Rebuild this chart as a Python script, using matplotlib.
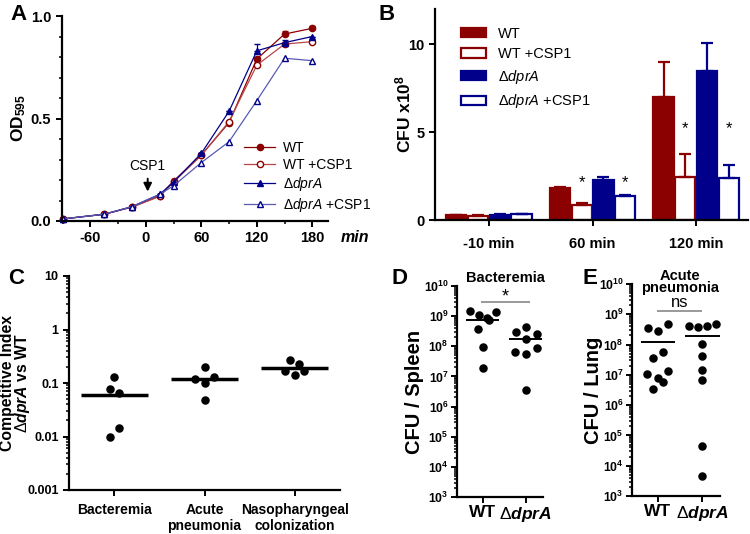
import matplotlib
matplotlib.use('Agg')
import matplotlib.pyplot as plt
import numpy as np
from matplotlib.ticker import LogLocator, NullFormatter, MultipleLocator

plt.rcParams['font.family'] = ['Liberation Sans', 'DejaVu Sans']
plt.rcParams['mathtext.fontset'] = 'custom'
plt.rcParams['mathtext.rm'] = 'Liberation Sans'
plt.rcParams['mathtext.it'] = 'Liberation Sans:italic'
plt.rcParams['mathtext.bf'] = 'Liberation Sans:bold'
plt.rcParams['mathtext.bfit'] = 'Liberation Sans:italic:bold'
plt.rcParams['axes.unicode_minus'] = False

RED = '#8b0000'
RED_L = '#b84848'
BLUE = '#00008b'
BLUE_L = '#5a5ab4'

# ---- panel A: growth curves
time_min = [-90, -45, -15, 15, 30, 60, 90, 120, 150, 180]
od_wt = [0.01, 0.033, 0.068, 0.122, 0.195, 0.322, 0.48, 0.79, 0.912, 0.94]
od_wt_csp = [0.01, 0.033, 0.068, 0.12, 0.19, 0.32, 0.485, 0.76, 0.863, 0.875]
od_dpra = [0.01, 0.033, 0.07, 0.13, 0.19, 0.33, 0.535, 0.83, 0.87, 0.9]
od_dpra_csp = [0.01, 0.033, 0.07, 0.13, 0.172, 0.285, 0.387, 0.587, 0.794, 0.782]
err_wt = [0, 0, 0, 0, 0, 0, 0.01, 0.01, 0.015, 0.01]
err_dpra = [0, 0, 0, 0, 0, 0, 0, 0.033, 0.012, 0]

# ---- panel B: CFU bars
groups_b = ['-10 min', '60 min', '120 min']
cfu_wt = [0.27, 1.8, 7.0]
cfu_wt_csp = [0.24, 0.88, 2.45]
cfu_dpra = [0.3, 2.3, 8.45]
cfu_dpra_csp = [0.33, 1.35, 2.4]
cfu_wt_err = [0.03, 0.05, 1.95]
cfu_wt_csp_err = [0.02, 0.08, 1.32]
cfu_dpra_err = [0.03, 0.12, 1.6]
cfu_dpra_csp_err = [0.03, 0.08, 0.72]

# ---- panel C: competitive index
groups_c = ['Bacteremia', 'Acute\npneumonia', 'Nasopharyngeal\ncolonization']
ci_values = [[0.129, 0.078, 0.065, 0.0147, 0.0099],
             [0.2, 0.12, 0.129, 0.098, 0.049],
             [0.264, 0.23, 0.168, 0.143, 0.166]]
ci_offsets = [[0, -0.05, 0.05, 0.05, -0.05],
              [0, -0.11, 0.11, 0, 0],
              [-0.055, 0.05, -0.11, 0, 0.1]]
ci_medians = [0.059, 0.12, 0.194]

# ---- panel D: bacteremia spleen CFU
d_wt = [1.5e9, 1.1e9, 8.9e8, 7.2e8, 1.4e9, 3.7e8, 9.6e7, 1.9e7]
d_wt_off = [-0.29, -0.09, 0.1, 0.14, 0.31, -0.12, 0, 0]
d_dpra = [2.9e8, 4.3e8, 2.6e8, 1.8e8, 6.3e7, 5.5e7, 8.9e7, 3.5e6]
d_dpra_off = [-0.23, 0, 0.25, 0, -0.25, 0, 0.25, 0]
d_lines = [7.7e8, 1.7e8]

# ---- panel E: acute pneumonia lung CFU
e_wt = [3.6e8, 2.9e8, 4.8e8, 3.7e7, 5.6e7, 1.07e7, 8.1e6, 6e6, 1.3e7, 3.4e6]
e_wt_off = [-0.21, 0, 0.23, -0.11, 0.11, -0.23, 0, 0.11, 0.23, -0.11]
e_dpra = [4.2e8, 3.7e8, 4.2e8, 4.7e8, 1.05e8, 4.2e7, 1.45e7, 6.8e6, 4.6e4, 4.7e3]
e_dpra_off = [-0.3, -0.09, 0.1, 0.29, 0, 0, 0, 0, 0, 0]
e_lines = [1.26e8, 1.9e8]

W, H = 750, 534
fig = plt.figure(figsize=(7.5, 5.34), dpi=100)


def px_axes(l, t, r, b):
    ax = fig.add_axes([l / W, 1 - b / H, (r - l) / W, (b - t) / H])
    ax.spines['top'].set_visible(False)
    ax.spines['right'].set_visible(False)
    for s in ['left', 'bottom']:
        ax.spines[s].set_linewidth(1.6)
    ax.tick_params(direction='out', width=1.4, length=4)
    ax.tick_params(which='minor', direction='out', width=1.1, length=2.5)
    ax.patch.set_alpha(0)
    return ax


def bold_ticks(ax, size):
    for lab in ax.get_xticklabels() + ax.get_yticklabels():
        lab.set_fontweight('bold')
        lab.set_fontsize(size)


# ===== A
ax = px_axes(61.7, 16, 328, 221)
series_a = [(od_wt, err_wt, RED, 'o', RED, 'WT'),
            (od_wt_csp, None, RED_L, 'o', 'white', 'WT +CSP1'),
            (od_dpra, err_dpra, BLUE, '^', BLUE, r'$\Delta\mathit{dprA}$'),
            (od_dpra_csp, None, BLUE_L, '^', 'white', r'$\Delta\mathit{dprA}$ +CSP1')]
for vals, errs, col, mk, face, lab in series_a:
    edge = RED if col in (RED, RED_L) else BLUE
    if errs is not None:
        ax.errorbar(time_min, vals, yerr=[np.zeros(len(errs)), errs], fmt='none',
                    ecolor=col, elinewidth=0.9, capsize=2.5, clip_on=False)
    ax.plot(time_min, vals, color=col, lw=0.9, marker=mk, ms=4.5, mfc=face, mec=edge,
            clip_on=False, label=lab)
ax.set_xlim(-91, 197)
ax.set_ylim(0, 1)
ax.set_xticks([-60, 0, 60, 120, 180])
ax.xaxis.set_minor_locator(MultipleLocator(30))
ax.set_yticks([0, 0.5, 1.0])
ax.yaxis.set_minor_locator(MultipleLocator(0.1))
ax.set_yticklabels(['0.0', '0.5', '1.0'])
bold_ticks(ax, 10.5)
ax.set_ylabel(r'OD$_{\mathbf{595}}$', fontsize=12.5, fontweight='bold')
ax.yaxis.set_label_coords(-0.125, 0.5)
ax.text(1.1, -0.08, 'min', transform=ax.transAxes, fontsize=11.5, fontweight='bold',
        style='italic', ha='center', va='center')
ax.annotate('', xy=(2, 0.13), xytext=(2, 0.22),
            arrowprops=dict(arrowstyle='-|>', color='black', lw=1.4, mutation_scale=12))
ax.text(2, 0.27, 'CSP1', ha='center', va='center', fontsize=10)
ax.legend(loc='upper left', bbox_to_anchor=(0.66, 0.425), frameon=False, fontsize=10,
          handlelength=2.2, handletextpad=0.6, labelspacing=0.22, borderpad=0)
fig.text(10 / W, 1 - 14 / H, 'A', fontsize=16, fontweight='bold', va='center')

# ===== B
ax = px_axes(435, 8.8, 748, 220)
xb = np.arange(len(groups_b))
bw = 0.195
pitch = 0.21
series_b = [(cfu_wt, cfu_wt_err, RED, True, 'WT'),
            (cfu_wt_csp, cfu_wt_csp_err, RED, False, 'WT +CSP1'),
            (cfu_dpra, cfu_dpra_err, BLUE, True, r'$\Delta\mathit{dprA}$'),
            (cfu_dpra_csp, cfu_dpra_csp_err, BLUE, False, r'$\Delta\mathit{dprA}$ +CSP1')]
for i, (vals, errs, col, filled, lab) in enumerate(series_b):
    pos = xb + (i - 1.5) * pitch
    ax.bar(pos, vals, width=bw, color=col if filled else 'white', edgecolor=col,
           linewidth=1.6, label=lab)
    ax.errorbar(pos, vals, yerr=[np.zeros(3), errs], fmt='none', ecolor=col,
                elinewidth=1.6, capsize=4, capthick=1.6)
for g in [1, 2]:
    for si in [1, 3]:
        y = 2.1 if g == 1 else 5.2
        ax.text(xb[g] + (si - 1.5) * pitch, y, '*', ha='center', va='center', fontsize=12)
ax.set_xlim(-0.52, 2.5)
ax.set_ylim(0, 12)
ax.set_yticks([0, 5, 10])
ax.set_xticks(xb)
ax.set_xticklabels(groups_b)
ax.tick_params(axis='x', pad=8)
bold_ticks(ax, 10.5)
ax.set_ylabel(r'CFU x10$^{\mathbf{8}}$', fontsize=12.5, fontweight='bold')
ax.yaxis.set_label_coords(-0.07, 0.5)
ax.legend(loc='upper left', bbox_to_anchor=(0.06, 0.95), frameon=False, fontsize=10.5,
          handlelength=1.7, handleheight=0.6, handletextpad=0.8, labelspacing=0.45,
          borderpad=0)
fig.text(378 / W, 1 - 14 / H, 'B', fontsize=16, fontweight='bold', va='center')

# ===== C
ax = px_axes(69, 276, 340, 490)
ax.set_yscale('log')
for i, (vals, offs) in enumerate(zip(ci_values, ci_offsets)):
    ax.scatter(np.array(offs) + i, vals, s=26, color='black', zorder=3)
    ax.hlines(ci_medians[i], i - 0.37, i + 0.37, color='black', lw=2.5)
ax.set_xlim(-0.5, 2.5)
ax.set_ylim(1e-3, 10)
ax.set_xticks(range(3))
ax.set_xticklabels(groups_c)
ax.tick_params(axis='x', pad=5.5)
ax.set_yticks([1e-3, 1e-2, 1e-1, 1, 10])
ax.set_yticklabels(['0.001', '0.01', '0.1', '1', '10'])
ax.yaxis.set_minor_locator(LogLocator(subs=np.arange(2, 10), numticks=20))
ax.yaxis.set_minor_formatter(NullFormatter())
bold_ticks(ax, 9)
for lab in ax.get_xticklabels():
    lab.set_fontsize(10)
ax.set_ylabel('Competitive Index\n' + r'$\Delta\mathbfit{dprA}$ vs WT', fontsize=11.3,
              fontweight='bold', linespacing=0.92)
ax.yaxis.set_label_coords(-0.135, 0.5)
fig.text(8 / W, 1 - 279 / H, 'C', fontsize=16, fontweight='bold', va='center')


def cfu_panel(l, t, r, b, wt, wt_off, dp, dp_off, lines, xlim, ylabel, label_x):
    ax = px_axes(l, t, r, b)
    ax.set_yscale('log')
    ax.scatter(np.array(wt_off), wt, s=26, color='black', zorder=3, clip_on=False)
    ax.scatter(np.array(dp_off) + 1, dp, s=26, color='black', zorder=3, clip_on=False)
    for i, v in enumerate(lines):
        ax.hlines(v, i - 0.38, i + 0.38, color='black', lw=1.4)
    ax.set_xlim(*xlim)
    ax.set_ylim(1e3, 1e10)
    ax.set_xticks([0, 1])
    ax.set_xticklabels(['WT', r'$\Delta\mathbfit{dprA}$'])
    ax.tick_params(axis='x', pad=1.5)
    ax.set_yticks([10.0 ** k for k in range(3, 11)])
    ax.set_yticklabels([r'$\mathbf{10^{%d}}$' % k for k in range(3, 11)])
    ax.yaxis.set_minor_locator(LogLocator(subs=np.arange(2, 10), numticks=20))
    ax.yaxis.set_minor_formatter(NullFormatter())
    ax.tick_params(axis='y', pad=2)
    bold_ticks(ax, 8.8)
    for lab in ax.get_xticklabels():
        lab.set_fontsize(12.5)
    ax.set_ylabel(ylabel, fontsize=14.5, fontweight='bold')
    ax.yaxis.set_label_coords(label_x, 0.5)
    return ax


# ===== D
ax = cfu_panel(457, 286, 543, 497, d_wt, d_wt_off, d_dpra, d_dpra_off, d_lines,
               (-0.6, 1.4), 'CFU / Spleen', -0.38)
ax.hlines(3e9, -0.04, 1.1, color='#999999', lw=1.4)
ax.text(0.53, 4.4e9, '*', ha='center', va='center', fontsize=13)
fig.text(505 / W, 1 - 278 / H, 'Bacteremia', ha='center', va='center', fontsize=10.5,
         fontweight='bold')
fig.text(392 / W, 1 - 279 / H, 'D', fontsize=16, fontweight='bold', va='center')

# ===== E
ax = cfu_panel(632, 284, 720, 496, e_wt, e_wt_off, e_dpra, e_dpra_off, e_lines,
               (-0.57, 1.39), 'CFU / Lung', -0.33)
ax.hlines(1.3e9, -0.02, 1.0, color='#999999', lw=1.4)
ax.text(0.5, 2.4e9, 'ns', ha='center', va='center', fontsize=12)
fig.text(680 / W, 1 - 282 / H, 'Acute\npneumonia', ha='center', va='center',
         fontsize=10.5, fontweight='bold', linespacing=0.78)
fig.text(583 / W, 1 - 279 / H, 'E', fontsize=16, fontweight='bold', va='center')

fig.savefig('out.png', dpi=100)
